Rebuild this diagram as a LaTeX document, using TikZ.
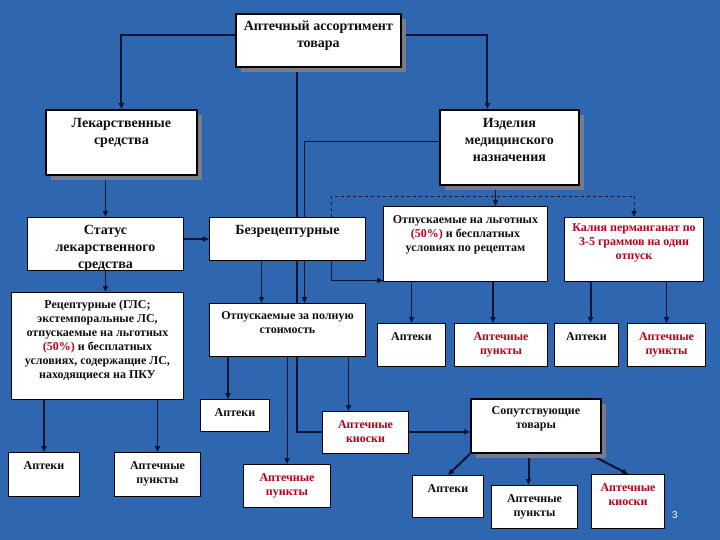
\documentclass[tikz,border=0pt]{standalone}
\usepackage{fontspec}
\setmainfont{Liberation Serif}
\setsansfont{Liberation Sans}
\usetikzlibrary{arrows.meta,shadows}
\pgfdeclarelayer{bglayer}
\pgfdeclarelayer{lines}
\pgfsetlayers{bglayer,lines,main}
\definecolor{bg}{RGB}{46,103,176}
\definecolor{ln}{RGB}{10,18,50}
\definecolor{rd}{RGB}{185,0,25}
\definecolor{tx}{RGB}{15,15,15}
\definecolor{shd}{RGB}{118,124,140}
\tikzset{
  box/.style={draw=black, fill=white, line width=1pt, anchor=north west, inner sep=0pt},
  sbox/.style={box, line width=1.8pt, drop shadow={shadow xshift=5pt, shadow yshift=-5pt, fill=shd, opacity=1}},
  bigt/.style={anchor=north, inner sep=0pt, align=center, text=tx, font=\bfseries\fontsize{14}{17}\selectfont},
  smt/.style={anchor=north, inner sep=0pt, align=center, text=tx, font=\bfseries\fontsize{12}{14}\selectfont},
  redt/.style={smt, text=rd},
  cn/.style={draw=ln, line width=1.5pt, -{Triangle[length=6pt,width=5pt]}},
  thk/.style={cn, line width=2.5pt},
  thn/.style={cn, line width=1pt},
}
\begin{document}
\begin{tikzpicture}[x=1pt,y=-1pt]
\begin{pgfonlayer}{bglayer}
\fill[bg] (0,0) rectangle (720,540);
\end{pgfonlayer}
\useasboundingbox (0,0) rectangle (720,540);

% boxes
\node[sbox, minimum width=165pt, minimum height=53pt] (top) at (235,13) {};
\node[sbox, minimum width=151pt, minimum height=65pt] (lek) at (45,109) {};
\node[sbox, minimum width=139pt, minimum height=75pt] (izd) at (439,109) {};
\node[box, minimum width=156pt, minimum height=53pt] (st) at (27,217) {};
\node[box, minimum width=156pt, minimum height=43pt] (bez) at (209,217) {};
\node[box, minimum width=172pt, minimum height=107pt] (rec) at (11,292) {};
\node[box, minimum width=156pt, minimum height=53pt] (pol) at (209,303) {};
\node[box, minimum width=164pt, minimum height=75pt] (lgot) at (383,206) {};
\node[box, minimum width=139pt, minimum height=64pt] (kal) at (564,217) {};
\node[box, minimum width=71pt, minimum height=44pt] (aptA) at (8,452) {};
\node[box, minimum width=86pt, minimum height=44pt] (punA) at (114,452) {};
\node[box, minimum width=69pt, minimum height=32pt] (aptB) at (200,399) {};
\node[box, minimum width=86pt, minimum height=42pt] (kioB) at (322,411) {};
\node[box, minimum width=87pt, minimum height=43pt] (punB) at (243,464) {};
\node[box, minimum width=68pt, minimum height=43pt] (aptC) at (377,323) {};
\node[box, minimum width=93pt, minimum height=43pt] (punC) at (454,323) {};
\node[box, minimum width=64pt, minimum height=43pt] (aptD) at (554,323) {};
\node[box, minimum width=78pt, minimum height=43pt] (punD) at (627,323) {};
\node[sbox, minimum width=130pt, minimum height=54pt] (sop) at (470,398) {};
\node[box, minimum width=71pt, minimum height=42pt] (aptE) at (412,475) {};
\node[box, minimum width=86pt, minimum height=43pt] (punE) at (491,485) {};
\node[box, minimum width=73pt, minimum height=54pt] (kioE) at (591,474) {};

% texts
\node[bigt] (top-t) at ([yshift=-8pt]top.north) {Аптечный ассортимент\\товара};
\node[bigt] (lek-t) at ([yshift=-9pt]lek.north) {Лекарственные\\средства};
\node[bigt] (izd-t) at ([yshift=-9pt]izd.north) {Изделия\\медицинского\\назначения};
\node[bigt] (st-t) at ([yshift=-8pt]st.north) {Статус\\лекарственного\\средства};
\node[bigt] (bez-t) at ([yshift=-8pt]bez.north) {Безрецептурные};
\node[smt] (rec-t) at ([yshift=-8pt]rec.north) {Рецептурные (ГЛС;\\экстемпоральные ЛС,\\отпускаемые на льготных\\\textcolor{rd}{(50\%)} и бесплатных\\условиях, содержащие ЛС,\\находящиеся на ПКУ};
\node[smt] (pol-t) at ([yshift=-8pt]pol.north) {Отпускаемые за полную\\стоимость};
\node[smt] (lgot-t) at ([yshift=-9pt]lgot.north) {Отпускаемые на льготных\\\textcolor{rd}{(50\%)} и бесплатных\\условиях по рецептам};
\node[redt] (kal-t) at ([yshift=-6pt]kal.north) {Калия перманганат по\\3-5 граммов на один\\отпуск};
\node[smt] (aptA-t) at ([yshift=-9pt]aptA.north) {Аптеки};
\node[smt] (punA-t) at ([yshift=-9pt]punA.north) {Аптечные\\пункты};
\node[smt] (aptB-t) at ([yshift=-9pt]aptB.north) {Аптеки};
\node[redt] (kioB-t) at ([yshift=-9pt]kioB.north) {Аптечные\\киоски};
\node[redt] (punB-t) at ([yshift=-9pt]punB.north) {Аптечные\\пункты};
\node[smt] (aptC-t) at ([yshift=-9pt]aptC.north) {Аптеки};
\node[redt] (punC-t) at ([yshift=-9pt]punC.north) {Аптечные\\пункты};
\node[smt] (aptD-t) at ([yshift=-9pt]aptD.north) {Аптеки};
\node[redt] (punD-t) at ([yshift=-9pt]punD.north) {Аптечные\\пункты};
\node[smt] (sop-t) at ([yshift=-8pt]sop.north) {Сопутствующие\\товары};
\node[smt] (aptE-t) at ([yshift=-9pt]aptE.north) {Аптеки};
\node[smt] (punE-t) at ([yshift=-9pt]punE.north) {Аптечные\\пункты};
\node[redt] (kioE-t) at ([yshift=-9pt]kioE.north) {Аптечные\\киоски};
\node[text=white, font=\sffamily\fontsize{10}{12}\selectfont, inner sep=0pt] (pg) at (675,515) {3};

% connectors
\begin{pgfonlayer}{lines}
\draw[cn, line width=2pt] ([yshift=5.5pt]top.west) -| (lek.north);
\draw[cn, line width=2pt] ([yshift=5.5pt]top.east) -| ([xshift=-22pt]izd.north);
\draw[thk] ([xshift=-21.5pt]top.south) |- ([yshift=-6pt]sop.west);
\draw[cn] (st.north |- lek.south) -- (st.north);
\draw[thk] ([yshift=5pt]st.east) coordinate (s1) -- (s1 -| bez.west);
\draw[cn] (st.south) -- (st.south |- rec.north);
\draw[cn] (aptA.north |- rec.south) -- (aptA.north);
\draw[cn] (punA.north |- rec.south) -- (punA.north);
\draw[thn] ([yshift=5.5pt]izd.west) -| ([xshift=17pt]pol.north);
\draw[cn, line width=1.2pt] ([xshift=-26pt]bez.south) -- ([xshift=-26pt]pol.north);
\draw[thn] ([xshift=44pt]bez.south) |- ([yshift=1.5pt]lgot.south west);
\draw[thn, dashed, line width=0.8pt] ([xshift=44pt]bez.north) -- ([xshift=44pt,yshift=21pt]bez.north) -| (kal.north);
\coordinate (l1) at ([xshift=30pt]lgot.north);
\draw[thn] (l1 |- izd.south) -- (l1);
\draw[cn, line width=1.2pt] (aptC.north |- lgot.south) -- (aptC.north);
\coordinate (p1) at ([xshift=-8pt]punC.north);
\draw[cn, line width=1.2pt] (p1 |- lgot.south) -- (p1);
\coordinate (a3) at ([xshift=4pt]aptD.north);
\draw[cn, line width=2pt] (a3 |- kal.south) -- (a3);
\draw[cn] (punD.north |- kal.south) -- (punD.north);
\coordinate (a4) at ([xshift=-7pt]aptB.north);
\draw[cn] (a4 |- pol.south) -- (a4);
\coordinate (k4) at ([xshift=-17pt]kioB.north);
\draw[cn] (k4 |- pol.south) -- (k4);
\draw[thn] (punB.north |- pol.south) -- (punB.north);
\draw[cn, line width=2pt] (sop.south west) -- (aptE.north);
\coordinate (p5) at ([xshift=-6pt]punE.north);
\draw[cn, line width=2pt] (p5 |- sop.south) -- (p5);
\draw[cn, line width=2pt] ([xshift=-13pt]sop.south east) -- (kioE.north);
\end{pgfonlayer}
\end{tikzpicture}
\end{document}
